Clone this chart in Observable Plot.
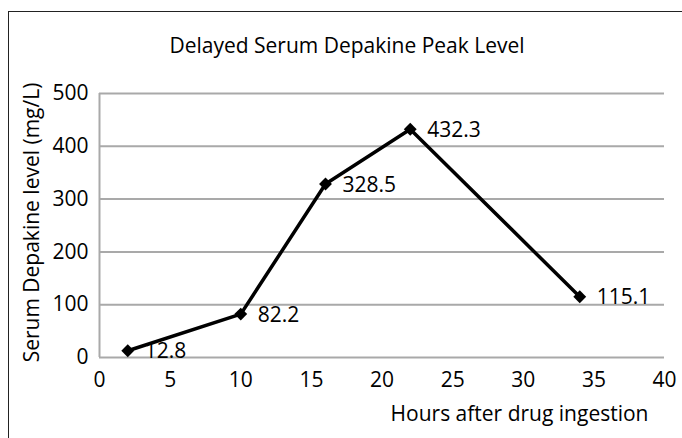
<!DOCTYPE html>
<html><head><meta charset="utf-8">
<script src="https://cdn.jsdelivr.net/npm/d3@7"></script>
<script src="https://cdn.jsdelivr.net/npm/@observablehq/plot@0.6"></script>
<style>
body{margin:0;background:#fff;}
#wrap{position:relative;width:682px;height:438px;overflow:hidden;}
#border{position:absolute;left:8px;top:11px;width:700px;height:460px;border-left:1.5px solid #222;border-top:1.5px solid #222;pointer-events:none;}
</style></head><body><div id="wrap"><div id="border"></div></div>
<script>
const hours = [2, 10, 16, 22, 34];
const levels = [12.8, 82.2, 328.5, 432.3, 115.1];
const pointLabels = ["12.8", "82.2", "328.5", "432.3", "115.1"];
const xTicks = [0, 5, 10, 15, 20, 25, 30, 35, 40];
const yTicks = [0, 100, 200, 300, 400, 500];
const titleText = "Delayed Serum Depakine Peak Level";
const xLabel = "Hours after drug ingestion";
const yLabel = "Serum Depakine level (mg/L)";

const data = hours.map((h, i) => ({hours: h, level: levels[i], label: pointLabels[i]}));
const grid = "#a9a9a9";
const fs = 21;

const chart = Plot.plot({
  width: 682,
  height: 438,
  marginLeft: 99,
  marginRight: 18,
  marginTop: 93,
  marginBottom: 81,
  style: {fontFamily: "'Open Sans', sans-serif", fontSize: fs + "px", color: "#000", background: "transparent"},
  x: {domain: [0, 40]},
  y: {domain: [0, 500]},
  marks: [
    Plot.gridY(yTicks, {stroke: grid, strokeOpacity: 1, strokeWidth: 2}),
    Plot.ruleX([0], {stroke: grid, strokeWidth: 2}),
    Plot.axisY({ticks: yTicks, tickSize: 0, tickPadding: 11, label: null, fontSize: fs}),
    Plot.axisX({ticks: xTicks, tickSize: 0, tickPadding: 15, label: null, fontSize: fs}),
    Plot.line(data, {x: "hours", y: "level", stroke: "#000", strokeWidth: 3.5}),
    Plot.dot(data, {x: "hours", y: "level", symbol: "diamond2", r: 5.8, fill: "#000", stroke: "none"}),
    Plot.text(data, {x: "hours", y: "level", text: "label", dx: 17, dy: 1, textAnchor: "start", fontSize: fs, fill: "#000"}),
    Plot.text([titleText], {text: d => d, frameAnchor: "top", textAnchor: "middle", dx: -35, dy: -41, lineAnchor: "bottom", fontSize: fs, fill: "#000"}),
    Plot.text([xLabel], {text: d => d, frameAnchor: "bottom-right", textAnchor: "end", dx: -16, dy: 63, lineAnchor: "bottom", fontSize: fs, fill: "#000"}),
    Plot.text([yLabel], {text: d => d, frameAnchor: "left", textAnchor: "middle", rotate: -90, dx: -67, dy: -3, fontSize: fs, fill: "#000"})
  ]
});
const wrap = document.getElementById("wrap");
chart.style.position = "absolute";
chart.style.left = "0";
chart.style.top = "0";
wrap.insertBefore(chart, wrap.firstChild);
</script>
</body></html>
